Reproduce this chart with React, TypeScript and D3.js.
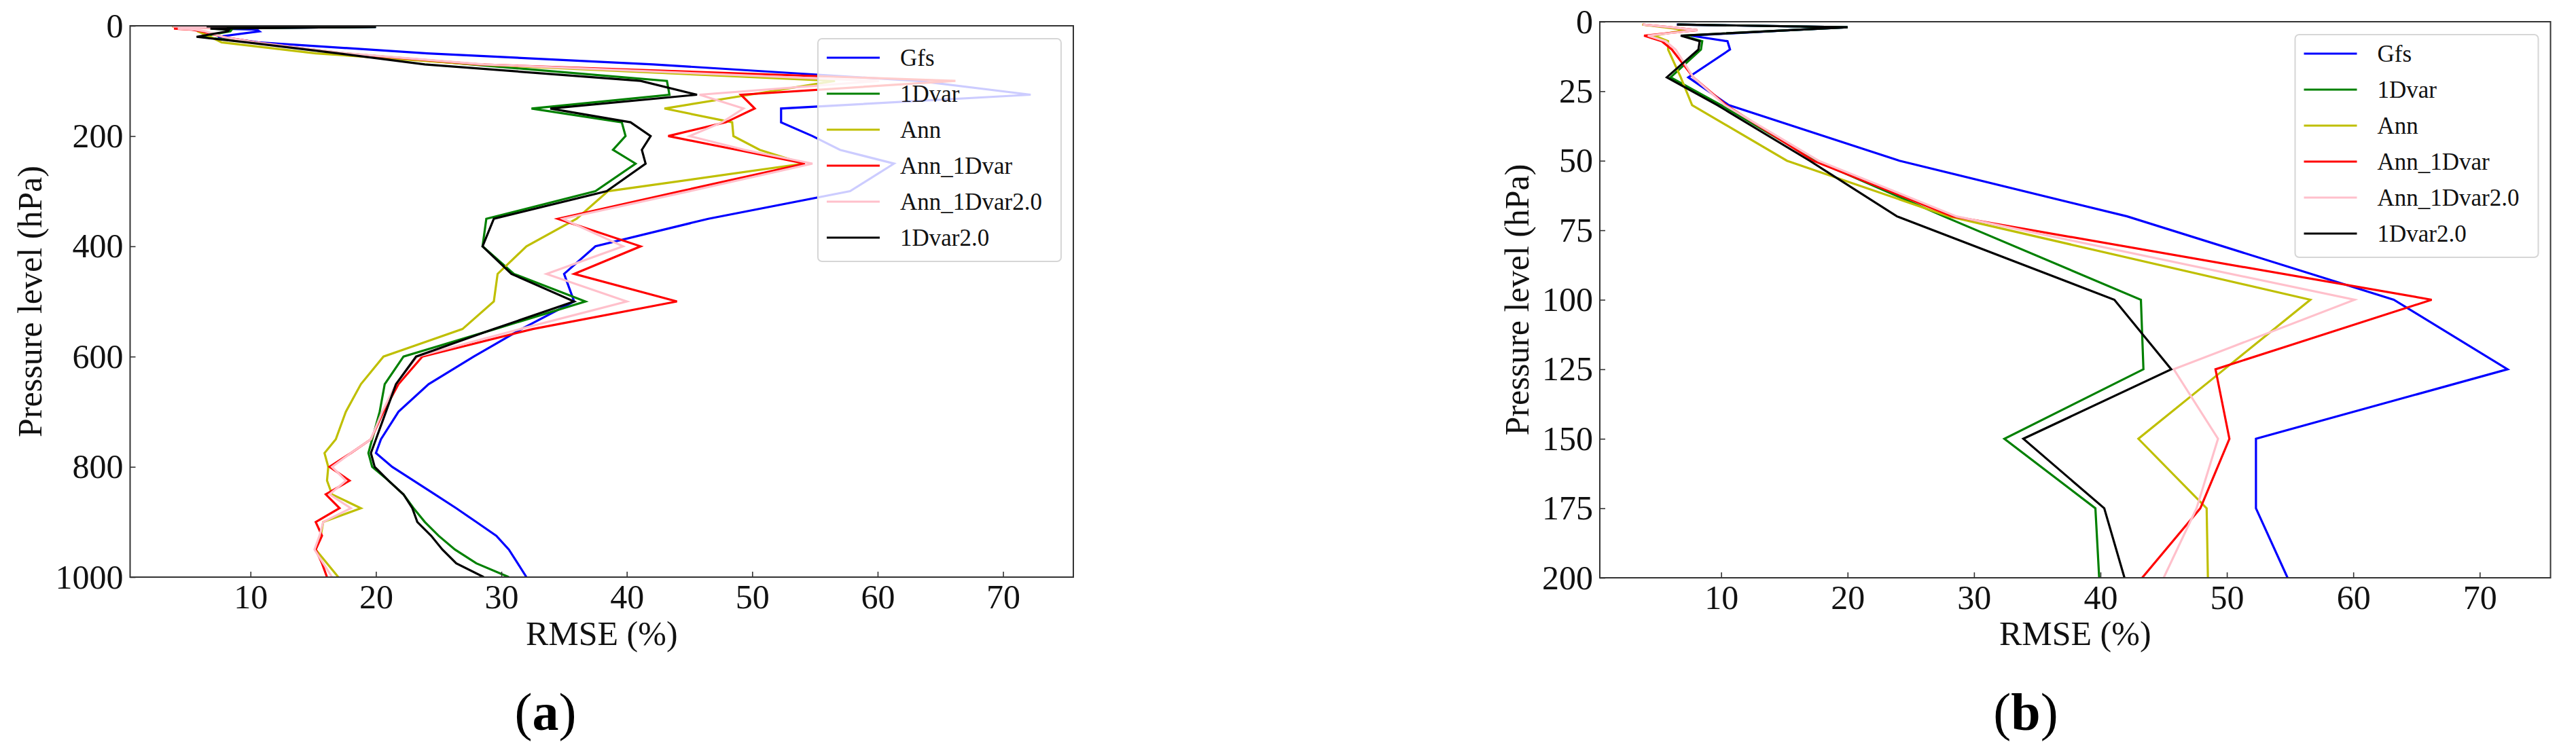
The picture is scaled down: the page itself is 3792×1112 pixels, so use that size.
import React, { useEffect, useRef } from 'react'
import * as d3 from 'd3'

// pressure levels (hPa), shared by every series
const levels = [1, 2, 3, 5, 7, 10, 20, 30, 50, 70, 100, 125, 150, 175, 200, 225, 250, 300, 350, 400, 450, 500, 550, 600, 650, 700, 750, 775, 800, 825, 850, 875, 900, 925, 950, 975, 1000]

// rmse (%) per level
const gfs = [6.5, 20.0, 15.5, 7.6, 10.5, 10.7, 7.4, 10.6, 24.1, 42.1, 63.2, 72.2, 52.3, 52.3, 54.8, 57.0, 61.3, 57.8, 46.5, 37.5, 35.0, 35.8, 31.6, 27.8, 24.2, 21.8, 20.4, 20.0, 21.3, 23.0, 24.7, 26.4, 28.0, 29.6, 30.6, 31.3, 32.0]
const oneDvar = [6.6, 20.0, 15.5, 6.9, 8.5, 8.4, 6.0, 10.0, 17.5, 27.6, 43.2, 43.4, 32.4, 39.6, 39.9, 38.9, 40.7, 37.5, 28.8, 28.5, 31.0, 36.7, 29.5, 22.2, 20.7, 20.3, 19.7, 19.4, 19.7, 21.0, 22.2, 23.0, 23.9, 25.0, 26.3, 28.0, 30.6]
const ann = [3.75, 5.5, 7.2, 4.7, 5.8, 5.8, 6.8, 7.7, 15.2, 28.0, 56.6, 49.8, 43.0, 48.4, 48.5, 50.6, 54.1, 38.5, 36.0, 32.0, 29.7, 29.4, 26.9, 20.6, 18.8, 17.6, 16.8, 15.9, 16.2, 16.1, 16.5, 18.8, 15.8, 15.6, 15.2, 16.1, 17.0]
const ann1Dvar = [3.8, 6.0, 8.1, 3.9, 5.3, 6.1, 7.8, 10.4, 17.3, 28.3, 66.2, 49.1, 50.2, 47.9, 43.3, 48.8, 54.2, 44.3, 34.5, 41.1, 35.8, 44.0, 32.5, 23.7, 21.8, 20.6, 19.6, 18.0, 16.3, 17.9, 16.0, 17.1, 15.2, 15.7, 15.2, 15.7, 16.1]
const ann1Dvar2 = [3.8, 6.0, 8.1, 4.2, 5.6, 6.4, 7.8, 10.3, 17.7, 28.6, 60.1, 45.8, 49.3, 47.6, 45.0, 49.4, 54.8, 45.0, 34.9, 39.7, 33.6, 40.0, 31.5, 23.3, 21.6, 20.5, 19.6, 18.0, 16.5, 17.6, 16.3, 18.0, 15.8, 15.5, 15.1, 15.8, 16.5]
const oneDvar2 = [6.5, 20.0, 15.5, 6.8, 8.3, 8.2, 5.7, 9.7, 17.0, 23.9, 41.1, 45.6, 33.9, 40.3, 41.9, 41.2, 41.5, 38.4, 29.4, 28.5, 30.8, 35.8, 29.4, 23.2, 21.6, 20.8, 20.0, 19.6, 19.9, 21.0, 22.2, 22.9, 23.3, 24.4, 25.3, 26.4, 28.6]

const seriesNames = ['Gfs', '1Dvar', 'Ann', 'Ann_1Dvar', 'Ann_1Dvar2.0', '1Dvar2.0']
const seriesValues = [gfs, oneDvar, ann, ann1Dvar, ann1Dvar2, oneDvar2]
const seriesColors = ['#0000ff', '#008000', '#bfbf00', '#ff0000', '#ffc0cb', '#000000']

const xTicks = [10, 20, 30, 40, 50, 60, 70]
const yTicksA = [0, 200, 400, 600, 800, 1000]
const yTicksB = [0, 25, 50, 75, 100, 125, 150, 175, 200]

const W = 3792
const H = 1112
const FONT = '"Liberation Serif", "Times New Roman", serif'

// two panels, b is the same profiles zoomed on the top 200 hPa
const panels = [
  { id: 'a', left: 191.5, right: 1580, top: 38, bottom: 850, ymax: 1000, yticks: yTicksA, ylabelX: 61, tagX: 803 },
  { id: 'b', left: 2355, right: 3754.5, top: 32, bottom: 851, ymax: 200, yticks: yTicksB, ylabelX: 2250, tagX: 2982 }
]

export default function App() {
  const ref = useRef<SVGSVGElement>(null)

  useEffect(() => {
    const svg = d3.select(ref.current)
    svg.selectAll('*').remove()

    panels.forEach(p => {
      const x = d3.scaleLinear().domain([0.4, 75.6]).range([p.left, p.right])
      const y = d3.scaleLinear().domain([0, p.ymax]).range([p.top, p.bottom])

      const g = svg.append('g')

      g.append('clipPath').attr('id', 'clip-' + p.id)
        .append('rect')
        .attr('x', p.left).attr('y', p.top)
        .attr('width', p.right - p.left).attr('height', p.bottom - p.top)

      // profiles
      const line = d3.line<number>()
        .x(d => x(d))
        .y((d, i) => y(levels[i]))

      g.append('g').attr('clip-path', `url(#clip-${p.id})`)
        .selectAll('path')
        .data(seriesValues)
        .join('path')
        .attr('d', d => line(d))
        .attr('fill', 'none')
        .attr('stroke', (d, i) => seriesColors[i])
        .attr('stroke-width', 3.2)
        .attr('stroke-linejoin', 'miter')

      // axes, ticks pointing in
      const xAxis = g.append('g')
        .attr('transform', `translate(0,${p.bottom})`)
        .call(d3.axisBottom(x).tickValues(xTicks).tickFormat(d3.format('d')).tickSizeInner(-8).tickSizeOuter(0).tickPadding(10))
      const yAxis = g.append('g')
        .attr('transform', `translate(${p.left},0)`)
        .call(d3.axisLeft(y).tickValues(p.yticks).tickFormat(d3.format('d')).tickSizeInner(-8).tickSizeOuter(0).tickPadding(10))

      ;[xAxis, yAxis].forEach(ax => {
        ax.select('.domain').remove()
        ax.attr('font-family', FONT).attr('font-size', 50)
        ax.selectAll('line').attr('stroke', '#333').attr('stroke-width', 1.6)
        ax.selectAll('text').attr('fill', '#111')
      })

      // frame
      g.append('rect')
        .attr('x', p.left).attr('y', p.top)
        .attr('width', p.right - p.left).attr('height', p.bottom - p.top)
        .attr('fill', 'none')
        .attr('stroke', '#333')
        .attr('stroke-width', 2)

      // axis titles
      g.append('text')
        .attr('x', (p.left + p.right) / 2)
        .attr('y', 950)
        .attr('text-anchor', 'middle')
        .attr('font-family', FONT)
        .attr('font-size', 50)
        .attr('fill', '#111')
        .text('RMSE (%)')

      g.append('text')
        .attr('transform', `translate(${p.ylabelX},${(p.top + p.bottom) / 2}) rotate(-90)`)
        .attr('text-anchor', 'middle')
        .attr('font-family', FONT)
        .attr('font-size', 50)
        .attr('fill', '#111')
        .text('Pressure level (hPa)')

      // legend box in the upper right corner
      const bw = 358, bh = 328
      const bx = p.right - 18 - bw
      const by = p.top + 19
      const lg = g.append('g')
      lg.append('rect')
        .attr('x', bx).attr('y', by)
        .attr('width', bw).attr('height', bh)
        .attr('rx', 6)
        .attr('fill', 'white')
        .attr('fill-opacity', 0.8)
        .attr('stroke', '#d6d6d6')
        .attr('stroke-width', 2)

      seriesNames.forEach((name, i) => {
        const cy = by + 28 + i * 53
        lg.append('line')
          .attr('x1', bx + 13).attr('x2', bx + 91)
          .attr('y1', cy).attr('y2', cy)
          .attr('stroke', seriesColors[i])
          .attr('stroke-width', 3.2)
        lg.append('text')
          .attr('x', bx + 121).attr('y', cy)
          .attr('dy', '0.35em')
          .attr('font-family', FONT)
          .attr('font-size', 35)
          .attr('fill', '#111')
          .text(name)
      })

      // panel tag, bold letter
      const tag = g.append('text')
        .attr('x', p.tagX).attr('y', 1075)
        .attr('text-anchor', 'middle')
        .attr('font-family', FONT)
        .attr('font-size', 78)
        .attr('fill', '#000')
      tag.append('tspan').text('(')
      tag.append('tspan').attr('font-weight', 'bold').text(p.id)
      tag.append('tspan').text(')')
    })
  }, [])

  return (
    <svg
      ref={ref}
      width={W}
      height={H}
      viewBox={`0 0 ${W} ${H}`}
      style={{ position: 'absolute', left: 0, top: 0, background: 'white', display: 'block' }}
    />
  )
}
